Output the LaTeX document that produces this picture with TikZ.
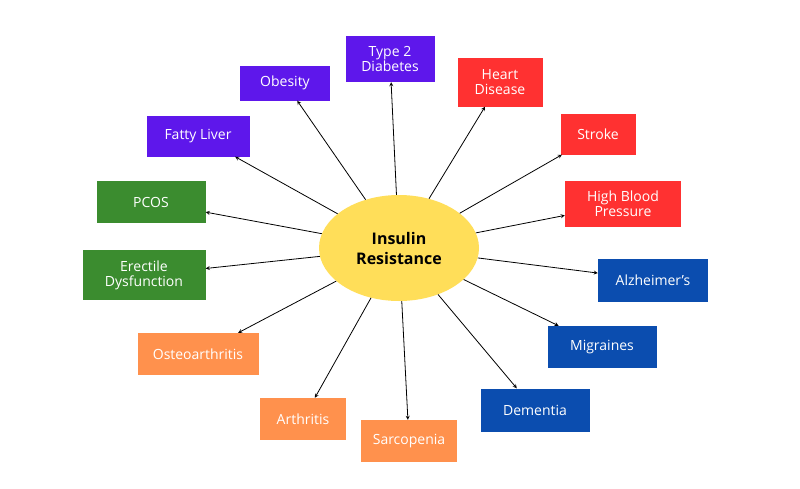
\documentclass[tikz,border=0pt]{standalone}
\usepackage{fontspec}
\setmainfont{Open Sans}
\usetikzlibrary{shapes.geometric}
\definecolor{purp}{HTML}{5E17EB}
\definecolor{grn}{HTML}{3B8C2F}
\definecolor{orng}{HTML}{FF914D}
\definecolor{blu}{HTML}{0B4DAF}
\definecolor{rd}{HTML}{FF3131}
\definecolor{yel}{HTML}{FFDE59}
\tikzset{box/.style={draw=none,text=white,align=center,font=\fontsize{14}{15}\selectfont,inner sep=0pt},
  link/.style={-stealth,thick,black}}
\begin{document}
\begin{tikzpicture}[x=1pt,y=-1pt]
  \useasboundingbox (0,0) rectangle (800,488);
  \node[ellipse,fill=yel,minimum width=160,minimum height=106,align=center,
    font=\fontsize{16}{20}\selectfont\bfseries] (ir) at (399,248) {Insulin\\Resistance};
  % purple
  \node[box,fill=purp,minimum width=89,minimum height=46] (t2d) at (390,59) {Type 2\\Diabetes};
  \node[box,fill=purp,minimum width=90,minimum height=35] (obe) at (285,83) {Obesity};
  \node[box,fill=purp,minimum width=103,minimum height=41] (fat) at (198,136) {Fatty Liver};
  % green
  \node[box,fill=grn,minimum width=109,minimum height=42] (pcos) at (151,202) {PCOS};
  \node[box,fill=grn,minimum width=123,minimum height=50] (ed) at (144,275) {Erectile\\Dysfunction};
  % orange
  \node[box,fill=orng,minimum width=121,minimum height=42] (ost) at (198,354) {Osteoarthritis};
  \node[box,fill=orng,minimum width=86,minimum height=42] (art) at (303,419) {Arthritis};
  \node[box,fill=orng,minimum width=96,minimum height=42] (sar) at (409,441) {Sarcopenia};
  % blue
  \node[box,fill=blu,minimum width=109,minimum height=43] (dem) at (535,410) {Dementia};
  \node[box,fill=blu,minimum width=109,minimum height=42] (mig) at (602,347) {Migraines};
  \node[box,fill=blu,minimum width=110,minimum height=43] (alz) at (653,280) {Alzheimer's};
  % red
  \node[box,fill=rd,minimum width=116,minimum height=46] (hbp) at (623,204) {High Blood\\Pressure};
  \node[box,fill=rd,minimum width=75,minimum height=41] (str) at (598,134) {Stroke};
  \node[box,fill=rd,minimum width=85,minimum height=49] (hd) at (500,82) {Heart\\Disease};
  \foreach \t in {t2d,obe,fat,pcos,ed,ost,art,sar,dem,mig,alz,hbp,str,hd}
    \draw[link] (ir) -- (\t);
\end{tikzpicture}
\end{document}
